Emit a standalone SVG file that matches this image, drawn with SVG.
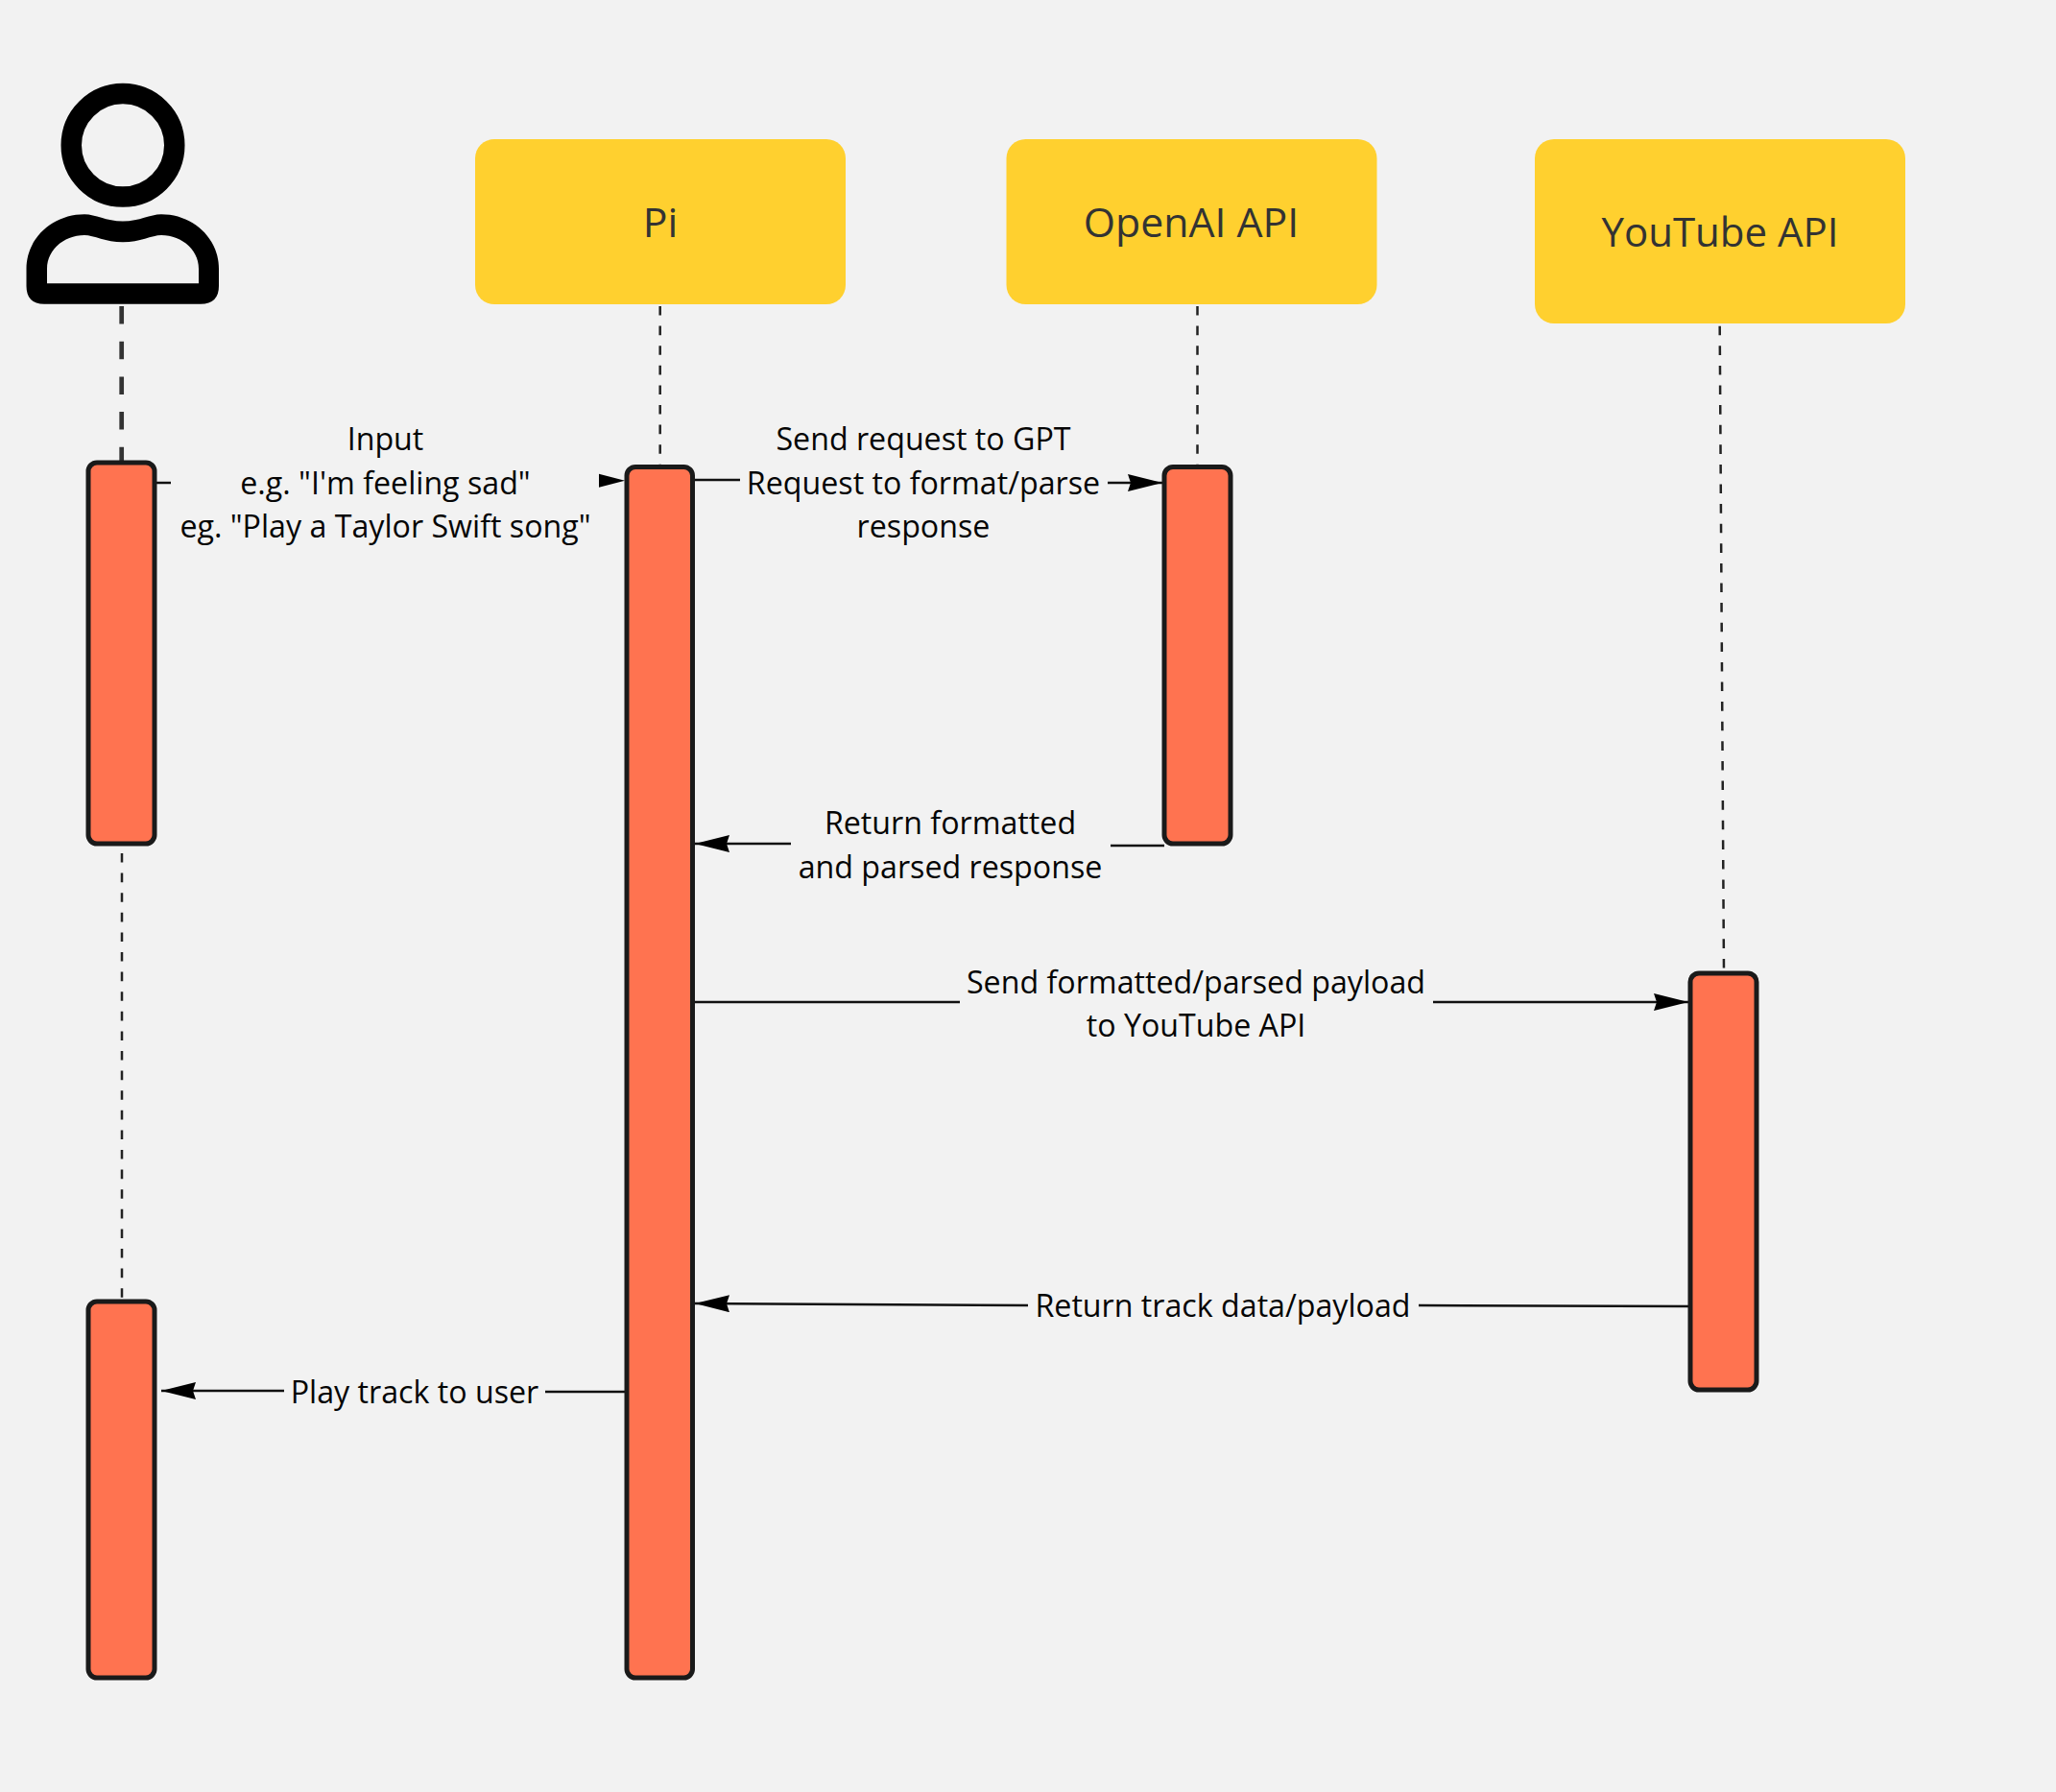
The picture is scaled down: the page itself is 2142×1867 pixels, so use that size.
<svg xmlns="http://www.w3.org/2000/svg" width="2142" height="1867" viewBox="0 0 2142 1867">
<style>
.h{font-family:"Open Sans","Noto Sans",sans-serif;font-size:42.8px;fill:#333;text-anchor:middle}
.t{font-family:"Open Sans","Noto Sans",sans-serif;font-size:32.2px;fill:#050505;text-anchor:middle}
.box{fill:#ffd02f}
.bar{fill:#ff7350;stroke:#1a1a1a;stroke-width:5}
.l{fill:none;stroke:#111;stroke-width:2.5}
.d{fill:none;stroke:#222;stroke-width:2.5;stroke-dasharray:9.6 11}
</style>
<defs><marker id="a" markerUnits="userSpaceOnUse" markerWidth="36" markerHeight="18" refX="36" refY="9" orient="auto"><path d="M0 0L36 9L0 18L3 9Z" fill="#000"/></marker></defs>
<rect width="2142" height="1867" fill="#f2f2f2"/>
<g id="connectors">
<path d="M126.700 319V481" fill="none" stroke="#333" stroke-width="4.700" stroke-dasharray="18.500 18.200"/>
<path class="d" d="M687.700 319V486"/><path class="d" d="M1247.500 319V486"/><path class="d" d="M1791.700 339.700L1796 1014"/>
<path class="d" d="M127 889V1355"/>
<path class="l" d="M161 503H178"/><path d="M624 493.700L651 500.700L624 507.700Z" fill="#000"/>
<path class="l" d="M721 500H771"/><path class="l" marker-end="url(#a)" d="M1154 503H1211"/>
<path class="l" d="M1213 881H1157"/><path class="l" marker-end="url(#a)" d="M824 879H724"/>
<path class="l" d="M721 1044H1000"/><path class="l" marker-end="url(#a)" d="M1493 1044H1759"/>
<path class="l" d="M1761 1361L1478 1360"/><path class="l" marker-end="url(#a)" d="M1071 1360L724 1358"/>
<path class="l" d="M653 1450H568"/><path class="l" marker-end="url(#a)" d="M296 1449H168"/>
</g>
<g id="user"><circle cx="128" cy="151.300" r="53.750" fill="none" stroke="#000" stroke-width="21.500"/>
<path fill-rule="evenodd" fill="#000" d="M27.500 298V280C27.500 248 55 223.300 88 223.300C100 223.300 110 230.500 128 230.500C146 230.500 156 223.300 168 223.300C201 223.300 228 248 228 280V298Q228 316.700 209 316.700H46Q27.500 316.700 27.500 298ZM49 295.300V280C49 260 67 245 88 245C98 245 110 252.300 128 252.300C146 252.300 158 245 168 245C189 245 207 260 207 280V295.300Z"/></g>
<g id="pi"><rect class="box" x="495" y="145" width="386" height="172" rx="20"/><text class="h" x="688" y="247">Pi</text></g>
<g id="openai"><rect class="box" x="1048.500" y="145" width="386" height="172" rx="20"/><text class="h" x="1241" y="247">OpenAI API</text></g>
<g id="youtube"><rect class="box" x="1599" y="145" width="386" height="192" rx="20"/><text class="h" x="1792" y="257" style="font-size:42px">YouTube API</text></g>
<g id="bar-user-1"><rect class="bar" x="92" y="482" width="69" height="397" rx="9"/></g>
<g id="bar-user-2"><rect class="bar" x="92" y="1356" width="69" height="392" rx="9"/></g>
<g id="bar-pi"><rect class="bar" x="653" y="486.500" width="68.500" height="1261.500" rx="9"/></g>
<g id="bar-openai"><rect class="bar" x="1213" y="486.500" width="69" height="392.500" rx="9"/></g>
<g id="bar-youtube"><rect class="bar" x="1761" y="1014" width="69" height="434" rx="9"/></g>
<g id="labels">
<text class="t" x="401.500" y="468.500">Input</text><text class="t" x="401.500" y="514.500">e.g. "I'm feeling sad"</text><text class="t" x="401.500" y="560">eg. "Play a Taylor Swift song"</text>
<text class="t" x="962" y="468.500">Send request to GPT</text><text class="t" x="962" y="514.500">Request to format/parse</text><text class="t" x="962" y="560">response</text>
<text class="t" x="990" y="869">Return formatted</text><text class="t" x="990" y="915">and parsed response</text>
<text class="t" x="1246" y="1034.500">Send formatted/parsed payload</text><text class="t" x="1246" y="1080">to YouTube API</text>
<text class="t" x="1274" y="1371.500">Return track data/payload</text>
<text class="t" x="432" y="1461.500">Play track to user</text>
</g>
</svg>
